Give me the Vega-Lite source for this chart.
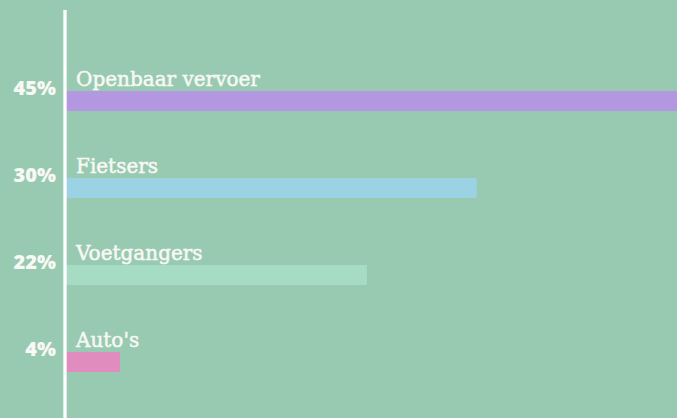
{
  "$schema": "https://vega.github.io/schema/vega-lite/v6.json",
  "width": 612,
  "height": 408,
  "autosize": {"type": "none"},
  "padding": {"left": 65, "right": 0, "top": 10, "bottom": 0},
  "background": "#98CAB2",
  "config": {"view": {"stroke": null}},
  "data": {
    "values": [
      {"mode": "Openbaar vervoer", "pct": 45, "label": "45%", "color": "#B497E1"},
      {"mode": "Fietsers", "pct": 30, "label": "30%", "color": "#9BD2E4"},
      {"mode": "Voetgangers", "pct": 22, "label": "22%", "color": "#A5DCC3"},
      {"mode": "Auto's", "pct": 4, "label": "4%", "color": "#E08CBE"}
    ]
  },
  "encoding": {
    "y": {
      "field": "mode",
      "type": "nominal",
      "sort": null,
      "axis": null,
      "scale": {"range": [47.5, 395.5], "paddingInner": 0.77, "paddingOuter": 0.385}
    }
  },
  "layer": [
    {
      "mark": {"type": "bar", "clip": true},
      "encoding": {
        "x": {"field": "pct", "type": "quantitative", "axis": null, "scale": {"domain": [0, 44.6], "nice": false, "zero": true}},
        "color": {"field": "color", "type": "nominal", "scale": null, "legend": null}
      }
    },
    {
      "mark": {"type": "rule", "color": "#FFFFFF", "strokeWidth": 2.5},
      "encoding": {"x": {"datum": 0, "type": "quantitative"}, "y": null}
    },
    {
      "mark": {"type": "text", "align": "left", "baseline": "alphabetic", "dx": 11, "dy": -15, "font": "DejaVu Serif", "fontSize": 20, "fontWeight": "normal", "color": "#F8F8F4", "stroke": "#F8F8F4", "strokeWidth": 0.5},
      "encoding": {"x": {"datum": 0, "type": "quantitative"}, "text": {"field": "mode"}}
    },
    {
      "mark": {"type": "text", "align": "right", "baseline": "middle", "dx": -9, "dy": -12, "font": "Open Sans", "fontSize": 20, "fontWeight": 800, "color": "#F8F8F4"},
      "encoding": {"x": {"datum": 0, "type": "quantitative"}, "text": {"field": "label"}}
    }
  ]
}
